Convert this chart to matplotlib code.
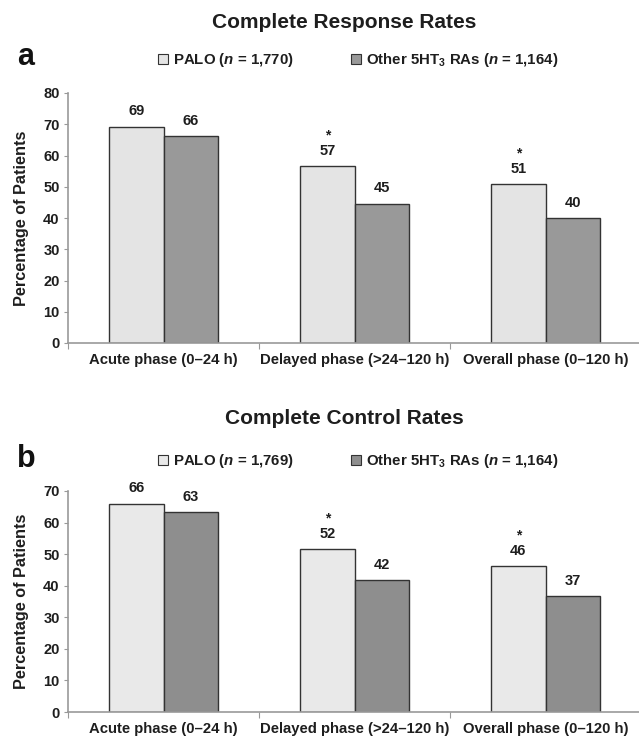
import matplotlib
matplotlib.use("Agg")
import matplotlib.pyplot as plt
from matplotlib.patches import Patch
import numpy as np

FAM = ['Liberation Sans', 'DejaVu Sans']
plt.rcParams['font.family'] = FAM
plt.rcParams['font.weight'] = 'bold'
plt.rcParams['mathtext.fontset'] = 'custom'
plt.rcParams['mathtext.rm'] = 'Liberation Sans:bold'
plt.rcParams['mathtext.it'] = 'Liberation Sans:italic:bold'
plt.rcParams['mathtext.bf'] = 'Liberation Sans:bold'

categories = ["Acute phase (0\u201324 h)", "Delayed phase (>24\u2013120 h)", "Overall phase (0\u2013120 h)"]

# Panel a: complete response rates
cr_palo = [69.2, 56.6, 50.8]
cr_other = [66.2, 44.6, 39.9]
cr_sig = [False, True, True]
# Panel b: complete control rates
cc_palo = [66.0, 51.6, 46.2]
cc_other = [63.2, 41.7, 36.6]
cc_sig = [False, True, True]

titles = ["Complete Response Rates", "Complete Control Rates"]
letters = ["a", "b"]
legend_a = ["PALO ($\\it{n}$ = 1,770)", "Other 5HT$_3$ RAs ($\\it{n}$ = 1,164)"]
legend_b = ["PALO ($\\it{n}$ = 1,769)", "Other 5HT$_3$ RAs ($\\it{n}$ = 1,164)"]
yticks_a = [0, 10, 20, 30, 40, 50, 60, 70, 80]
yticks_b = [0, 10, 20, 30, 40, 50, 60, 70]

W, H = 639, 737
fig = plt.figure(figsize=(W / 100, H / 100), dpi=100)

def px_axes(left, right, top, bottom):
    return fig.add_axes([left / W, 1 - bottom / H, (right - left) / W, (bottom - top) / H])

TXT = '#1e1e1e'
panels = [
    dict(rect=(68, 641, 93, 343), palo=cr_palo, other=cr_other, sig=cr_sig, yt=yticks_a,
         c1='#e4e4e4', c2='#999999', leg=legend_a, title_y=22, let_y=65, leg_y=60),
    dict(rect=(68, 641, 491, 712), palo=cc_palo, other=cc_other, sig=cc_sig, yt=yticks_b,
         c1='#e9e9e9', c2='#8e8e8e', leg=legend_b, title_y=418, let_y=467, leg_y=461),
]

for i, p in enumerate(panels):
    ax = px_axes(*p['rect'])
    x = np.arange(len(categories))
    bw = 0.285
    ax.bar(x - bw / 2, p['palo'], bw, color=p['c1'], edgecolor='#333333', linewidth=1.0)
    ax.bar(x + bw / 2, p['other'], bw, color=p['c2'], edgecolor='#333333', linewidth=1.0)
    ymax = p['yt'][-1]
    ax.set_xlim(-0.5, 2.5)
    ax.set_ylim(0, ymax)
    for xi, v, s in zip(x, p['palo'], p['sig']):
        ax.annotate(f"{round(v)}", (xi - bw / 2, v), xytext=(0, 6), textcoords='offset points',
                    ha='center', va='bottom', fontsize=10.5, fontweight='bold', color=TXT)
        if s:
            ax.annotate("*", (xi - bw / 2, v), xytext=(0, 17), textcoords='offset points',
                        ha='center', va='bottom', fontsize=10, fontweight='bold', color=TXT)
    for xi, v in zip(x, p['other']):
        ax.annotate(f"{round(v)}", (xi + bw / 2, v), xytext=(0, 6), textcoords='offset points',
                    ha='center', va='bottom', fontsize=10.5, fontweight='bold', color=TXT)
    ax.set_yticks(p['yt'])
    ax.set_yticklabels([str(t) for t in p['yt']], fontsize=10.5, fontweight='bold', color=TXT)
    ax.set_xticks([-0.5, 0.5, 1.5, 2.5])
    ax.set_xticklabels([])
    ax.set_xticks(x, minor=True)
    ax.set_xticklabels(categories, minor=True, fontsize=10.7, fontweight='bold', color=TXT)
    ax.tick_params(axis='x', which='minor', length=0, pad=7)
    ax.tick_params(axis='x', which='major', length=4, color='#999999', direction='out')
    ax.tick_params(axis='y', length=3, color='#999999', direction='out', pad=3)
    for s in ['top', 'right']:
        ax.spines[s].set_visible(False)
    for s in ['left', 'bottom']:
        ax.spines[s].set_color('#999999')
        ax.spines[s].set_linewidth(1.2)
    ax.set_ylabel("Percentage of Patients", fontsize=11.7, fontweight='bold', color=TXT, labelpad=10)
    ax.patch.set_alpha(0)

    fig.text(344 / W, 1 - p['title_y'] / H, titles[i], ha='center', va='center',
             fontsize=15, fontweight='bold', color=TXT)
    fig.text(17 / W, 1 - p['let_y'] / H, letters[i], ha='left', va='baseline',
             fontsize=22, fontweight='bold', color='#111111')
    handles = [Patch(facecolor=p['c1'], edgecolor='#333333', linewidth=0.8),
               Patch(facecolor=p['c2'], edgecolor='#333333', linewidth=0.8)]
    fig.legend(handles, p['leg'], loc='center', bbox_to_anchor=(358 / W, 1 - p['leg_y'] / H),
               ncol=2, frameon=False, handlelength=0.7, handleheight=0.7, handletextpad=0.3,
               columnspacing=3.8, prop=dict(size=10.8, weight='bold'), labelcolor=TXT)

fig.savefig("out.png", dpi=100)
